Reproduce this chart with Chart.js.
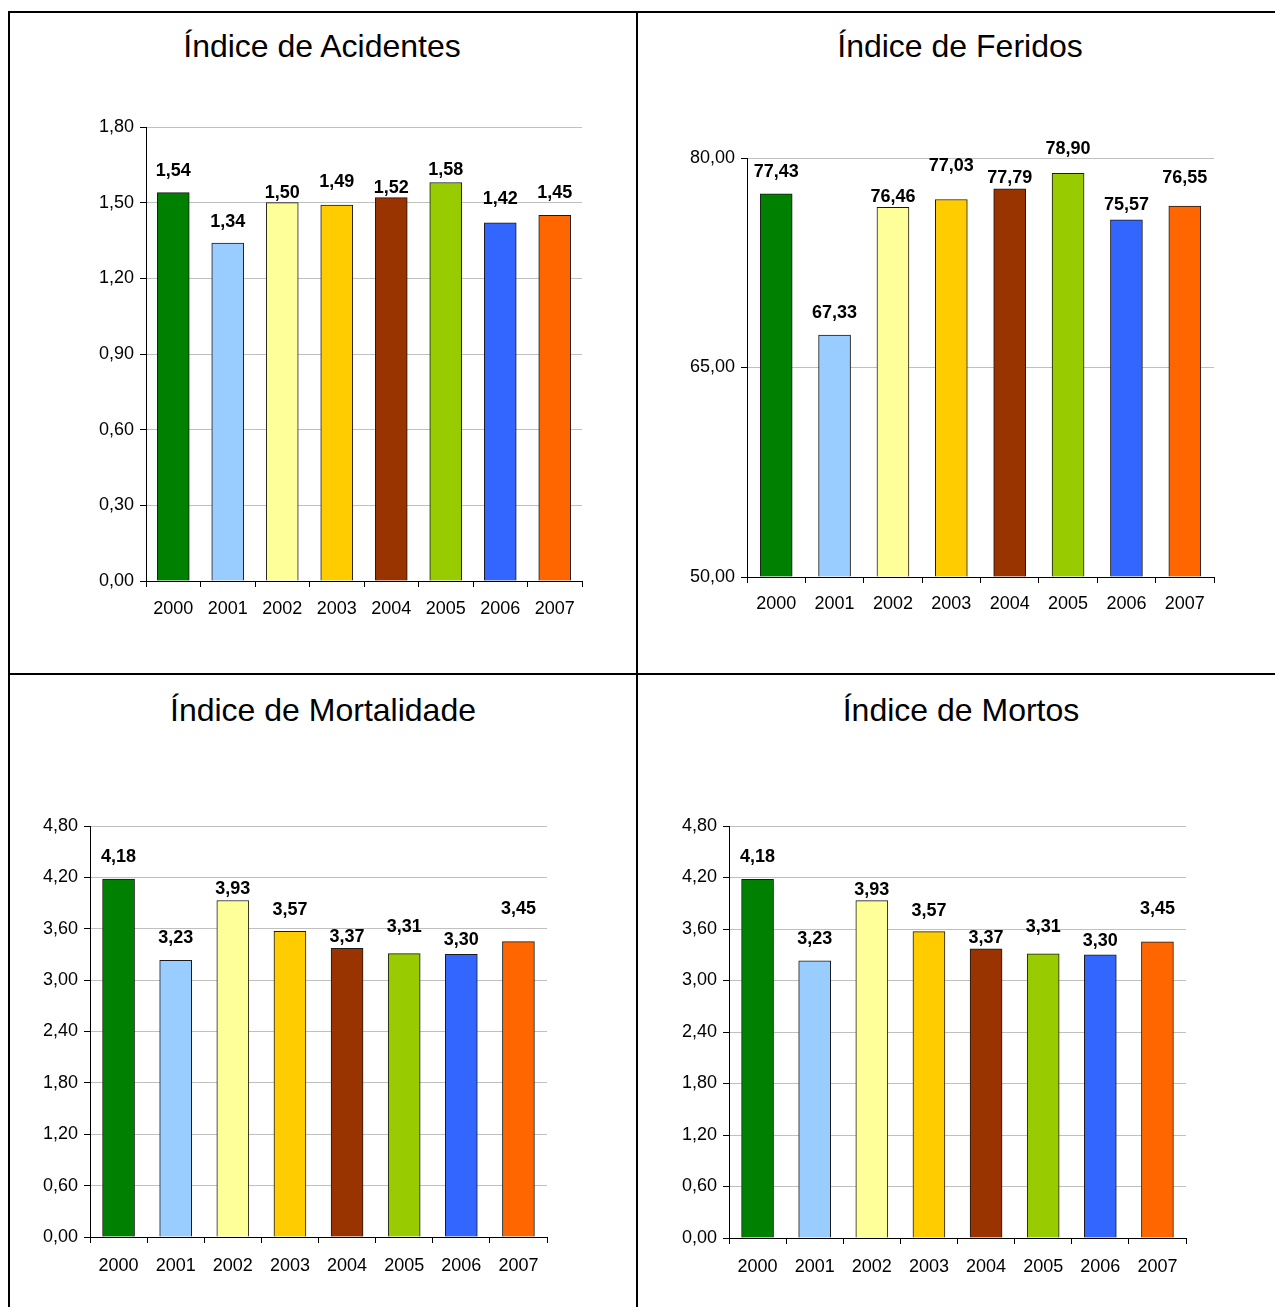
<!DOCTYPE html>
<html>
<head>
<meta charset="utf-8">
<script src="https://cdn.jsdelivr.net/npm/chart.js@4.4.1/dist/chart.umd.min.js"></script>
<style>
  html, body { margin: 0; padding: 0; background: #fff; width: 1275px; height: 1307px; overflow: hidden; }
  .line { position: absolute; background: #000; }
  .title { position: absolute; font-family: "Liberation Sans", Arial, sans-serif; font-size: 32px; color: #000; white-space: nowrap; transform: translate(-50%, -50%); }
  canvas { position: absolute; }
</style>
</head>
<body>
<div class="line" style="left:8px; top:11px; width:1267px; height:2px;"></div>
<div class="line" style="left:8px; top:11px; width:2px; height:1296px;"></div>
<div class="line" style="left:636px; top:11px; width:2px; height:1296px;"></div>
<div class="line" style="left:8px; top:673px; width:1267px; height:2px;"></div>

<div class="title" style="left:322px; top:46px;">Índice de Acidentes</div>
<div class="title" style="left:960px; top:46px;">Índice de Feridos</div>
<div class="title" style="left:323px; top:710px;">Índice de Mortalidade</div>
<div class="title" style="left:961px; top:710px;">Índice de Mortos</div>

<canvas id="c1"></canvas>
<canvas id="c2"></canvas>
<canvas id="c3"></canvas>
<canvas id="c4"></canvas>

<script>
// ---- Data ----
const years = ['2000', '2001', '2002', '2003', '2004', '2005', '2006', '2007'];
const acidentes = [1.54, 1.34, 1.50, 1.49, 1.52, 1.58, 1.42, 1.45];
const feridos = [77.43, 67.33, 76.46, 77.03, 77.79, 78.90, 75.57, 76.55];
const mortalidade = [4.18, 3.23, 3.93, 3.57, 3.37, 3.31, 3.30, 3.45];
const mortos = [4.18, 3.23, 3.93, 3.57, 3.37, 3.31, 3.30, 3.45];

// axis ranges [min, max, step]
const acidentesAxis = [0, 1.8, 0.3];
const feridosAxis = [50, 80, 15];
const mortalidadeAxis = [0, 4.8, 0.6];
const mortosAxis = [0, 4.8, 0.6];

// ---- Styles ----
const barColors = ['#008000', '#99CCFF', '#FFFF99', '#FFCC00', '#993300', '#99CC00', '#3366FF', '#FF6600'];
const FONT = '"Liberation Sans", Arial, sans-serif';
// vertical lift (px) of each value label's centre above its bar top
const liftAcidentes = [22, 21, 10, 23, 10, 12, 24, 22];
const liftFeridos = [22, 22, 10, 33, 11, 24, 15, 28];
const liftMortalidade = [22, 22, 11, 21, 11, 27, 14, 33];
const liftMortos = [22, 22, 11, 21, 11, 27, 14, 33];

const fmt = v => Number(v).toFixed(2).replace('.', ',');

const valueLabels = {
  id: 'valueLabels',
  afterDatasetsDraw(chart, args, opts) {
    const ctx = chart.ctx;
    const meta = chart.getDatasetMeta(0);
    const data = chart.data.datasets[0].data;
    ctx.save();
    ctx.font = 'bold 18px ' + FONT;
    ctx.fillStyle = '#000';
    ctx.textAlign = 'center';
    ctx.textBaseline = 'middle';
    meta.data.forEach((bar, i) => {
      ctx.fillText(fmt(data[i]), bar.x, bar.y - opts.lift[i]);
    });
    ctx.restore();
  }
};

const YW = 80, XH = 50;

function makeChart(id, values, axis, lift, area, labelPad) {
  const cv = document.getElementById(id);
  const cx = area.l - 100, cy = area.t - 30;
  const cw = area.r - cx + 30, ch = area.b - cy + 60;
  cv.style.left = cx + 'px';
  cv.style.top = cy + 'px';
  cv.width = cw; cv.height = ch;
  cv.style.width = cw + 'px'; cv.style.height = ch + 'px';
  new Chart(cv, {
    type: 'bar',
    data: {
      labels: years,
      datasets: [{
        data: values,
        base: axis[0],
        backgroundColor: barColors,
        borderColor: '#1a1a1a',
        borderWidth: 1,
        barThickness: 32
      }]
    },
    options: {
      responsive: false,
      animation: false,
      devicePixelRatio: 1,
      layout: { padding: { left: 100 - YW, top: 30, right: 30, bottom: 60 - XH } },
      plugins: {
        legend: { display: false },
        tooltip: { enabled: false },
        title: { display: false },
        valueLabels: { lift: lift }
      },
      scales: {
        x: {
          afterFit(s) { s.height = XH; },
          grid: { offset: true, drawOnChartArea: false, drawTicks: true, tickLength: 6, tickColor: '#000' },
          border: { display: true, color: '#000', width: 1 },
          ticks: { color: '#000', font: { family: FONT, size: 18 }, padding: labelPad, maxRotation: 0, autoSkip: false }
        },
        y: {
          min: axis[0], max: axis[1],
          afterFit(s) { s.width = YW; },
          grid: { color: '#c0c0c0', lineWidth: 1, drawTicks: true, tickLength: 6, tickColor: '#000' },
          border: { display: true, color: '#000', width: 1 },
          ticks: { stepSize: axis[2], color: '#000', font: { family: FONT, size: 18 }, padding: 6, callback: v => fmt(v) }
        }
      }
    },
    plugins: [valueLabels]
  });
}

makeChart('c1', acidentes, acidentesAxis, liftAcidentes, { l: 146, t: 127, r: 582, b: 581 }, 11);
makeChart('c2', feridos, feridosAxis, liftFeridos, { l: 747, t: 158, r: 1214, b: 577 }, 10);
makeChart('c3', mortalidade, mortalidadeAxis, liftMortalidade, { l: 90, t: 826, r: 547, b: 1237 }, 12);
makeChart('c4', mortos, mortosAxis, liftMortos, { l: 729, t: 826, r: 1186, b: 1238 }, 12);
</script>
</body>
</html>
